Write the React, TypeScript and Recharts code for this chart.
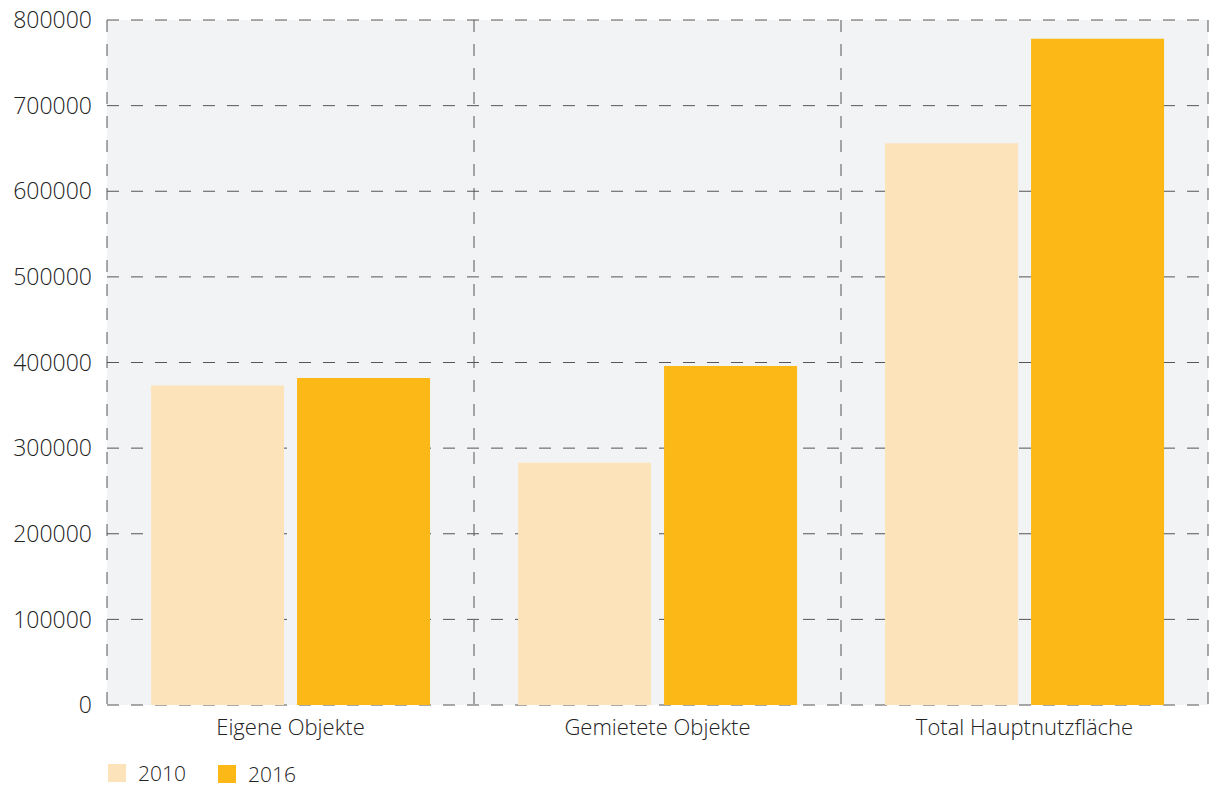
import React from 'react';
import { BarChart, Bar, XAxis, YAxis, CartesianGrid } from 'recharts';

const categories = ['Eigene Objekte', 'Gemietete Objekte', 'Total Hauptnutzfläche'];
const values2010 = [373000, 283000, 656000];
const values2016 = [382000, 396000, 778000];
const yTicks = [0, 100000, 200000, 300000, 400000, 500000, 600000, 700000, 800000];

const series = [
  { key: 'y2010', name: '2010', color: '#FDE3BA' },
  { key: 'y2016', name: '2016', color: '#FBB817' },
];

const data = categories.map((name, i) => ({
  name,
  y2010: values2010[i],
  y2016: values2016[i],
}));

const font = '"Open Sans", "Noto Sans", sans-serif';

// vertical grid lines sit on the category boundaries, not the centres
const boundaryLines = ({ offset }: { offset: { left: number; width: number } }) =>
  Array.from({ length: categories.length + 1 }, (_, i) => offset.left + (i * offset.width) / categories.length);

export default function App() {
  return (
    <div style={{ position: 'absolute', left: 0, top: 0, width: 1209, height: 787, fontFamily: font, background: '#fff' }}>
      <BarChart
        width={1209}
        height={787}
        data={data}
        margin={{ top: 20, right: 1, bottom: 42, left: 0 }}
        barCategoryGap="12%"
        barGap={13}
      >
        <CartesianGrid
          stroke="#555"
          strokeDasharray="12 12"
          verticalCoordinatesGenerator={boundaryLines as any}
          fill="#F2F3F5"
          fillOpacity={1}
        />
        <XAxis
          dataKey="name"
          axisLine={false}
          tickLine={false}
          tickSize={0}
          tickMargin={14}
          height={40}
          tick={{ fontSize: 22, fill: '#222', fontFamily: font, fontWeight: 300 }}
        />
        <YAxis
          domain={[0, 800000]}
          ticks={yTicks}
          axisLine={false}
          tickLine={false}
          tickSize={0}
          tickMargin={15}
          width={107}
          interval={0}
          tick={{ fontSize: 23, fill: '#222', fontFamily: font, fontWeight: 300 }}
        />
        {series.map((s) => (
          <Bar key={s.key} dataKey={s.key} name={s.name} fill={s.color} isAnimationActive={false} />
        ))}
      </BarChart>
      <div style={{ position: 'absolute', left: 108, top: 762, display: 'flex', gap: 32, fontSize: 21, lineHeight: '18px', color: '#222', fontWeight: 300 }}>
        {series.map((s, i) => (
          <div key={s.key} style={{ display: 'flex', alignItems: 'center', gap: 12, marginTop: i * 3 }}>
            <div style={{ width: 18, height: 18, background: s.color }} />
            <span>{s.name}</span>
          </div>
        ))}
      </div>
    </div>
  );
}
